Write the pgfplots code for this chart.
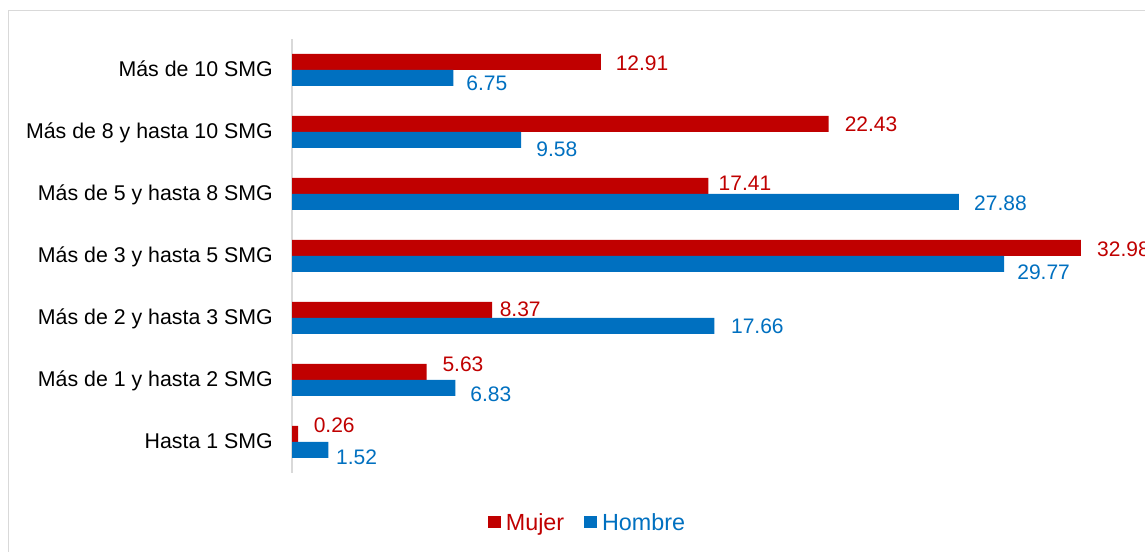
\documentclass[border=0pt]{standalone}
\usepackage{pgfplots}
\usepackage{pgfplotstable}
\pgfplotsset{compat=1.18}
\usepackage{fontspec}
\setmainfont{Liberation Sans}
\definecolor{cRed}{HTML}{C00000}
\definecolor{cBlue}{HTML}{0070C0}
\definecolor{lineGray}{HTML}{D9D9D9}

% y: category index (0 = Hasta 1 SMG), x: value, dx/dy: label offsets in px
\pgfplotstableread{
y x dx dy
0 0.26 15.3 9.5
1 5.63 15.6 8.5
2 8.37 7.3 1
3 32.98 16 -1
4 17.41 10 3
5 22.43 16 0
6 12.91 14.7 -1
}\mujer
\pgfplotstableread{
y x dx dy
0 1.52 7.6 -7
1 6.83 14.7 -6
2 17.66 16.4 0
3 29.77 13 -7.5
4 27.88 15 -1
5 9.58 15 -9
6 6.75 12.7 -5
}\hombre

\begin{document}
\begin{tikzpicture}[x=0.75pt,y=0.75pt]
\useasboundingbox (0,0) rectangle (1145,552);
\clip (0,0) rectangle (1145,552);
\fill[white] (0,0) rectangle (1145,552);
\draw[lineGray, line width=0.9pt] (8.5,-20) rectangle (1170,541.5);
\begin{axis}[
  at={(219pt,59.25pt)}, anchor=south west,
  scale only axis,
  width=627.9pt, height=325.5pt,
  xmin=0, xmax=35, ymin=-0.5, ymax=6.5,
  enlargelimits=false,
  clip=false,
  xbar,
  axis x line=none,
  axis y line=left,
  y axis line style={-, draw=lineGray, line width=1.2pt},
  xtick=\empty,
  ytick={0,...,6},
  yticklabels={Hasta 1 SMG, Más de 1 y hasta 2 SMG, Más de 2 y hasta 3 SMG, Más de 3 y hasta 5 SMG, Más de 5 y hasta 8 SMG, Más de 8 y hasta 10 SMG, Más de 10 SMG},
  major tick length=0pt,
  ytick style={draw=none},
  yticklabel style={font=\fontsize{16}{19}\selectfont, text=black, anchor=east, inner sep=0pt, xshift=-14.25pt, yshift=0.5pt, text height=11.46pt, text depth=0pt},
  nodes near coords={\pgfmathprintnumber[fixed,fixed zerofill,precision=2,assume math mode=true]{\pgfplotspointmeta}},
  point meta=x,
  visualization depends on={\thisrow{dx} \as \dx},
  visualization depends on={\thisrow{dy} \as \dy},
  every node near coord/.append style={font=\fontsize{15.75}{18}\selectfont, anchor=west, inner sep=0pt, text height=11.28pt, text depth=0pt, xshift=\dx*0.75pt, yshift=\dy*0.75pt},
  legend columns=2,
  legend image code/.code={\fill[#1] (0pt,-4.7pt) rectangle (9.4pt,4.7pt);},
  legend style={at={(0.2341,-0.1129)}, anchor=west, draw=none, fill=none, inner sep=0pt, outer sep=0pt,
    font=\fontsize{17.5}{20}\selectfont,
    nodes={inner sep=0pt, text height=12.53pt, text depth=0pt},
    /tikz/every odd column/.append style={column sep=4pt},
    /tikz/every even column/.append style={column sep=15pt}},
]
\addplot[fill=cRed, draw=none, bar width=12pt, bar shift=6pt,
  every node near coord/.append style={text=cRed}] table[x=x,y=y] {\mujer};
\addlegendentry{\textcolor{cRed}{Mujer}}
\addplot[fill=cBlue, draw=none, bar width=12pt, bar shift=-6pt,
  every node near coord/.append style={text=cBlue}] table[x=x,y=y] {\hombre};
\addlegendentry{\textcolor{cBlue}{Hombre}}
\end{axis}
\end{tikzpicture}
\end{document}
